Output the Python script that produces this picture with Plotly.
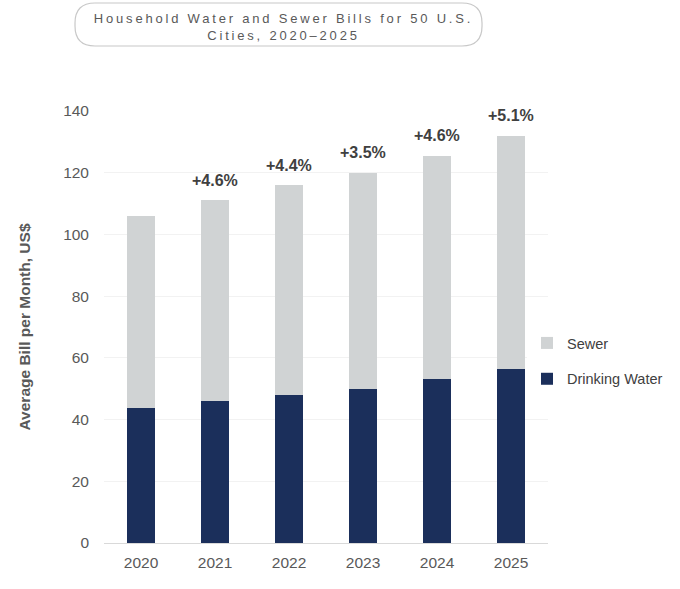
import plotly.graph_objects as go

years = ["2020", "2021", "2022", "2023", "2024", "2025"]
drinking_water = [43.8, 46.1, 48.0, 50.0, 53.1, 56.5]
sewer = [62.3, 64.9, 68.0, 70.0, 72.4, 75.4]
pct_change = ["", "+4.6%", "+4.4%", "+3.5%", "+4.6%", "+5.1%"]

W, H = 680, 589
M_L, M_R, M_T, M_B = 104, 132, 111, 46
PW = W - M_L - M_R
PH = H - M_T - M_B


def px_to_paper(x, y):
    return (x - M_L) / PW, (H - M_B - y) / PH


def rounded_box(x0, y0, x1, y1, r):
    # rounded rectangle as an svg path in paper coords, from pixel corners
    pts = [
        ("M", [(x0 + r, y0)]),
        ("L", [(x1 - r, y0)]),
        ("Q", [(x1, y0), (x1, y0 + r)]),
        ("L", [(x1, y1 - r)]),
        ("Q", [(x1, y1), (x1 - r, y1)]),
        ("L", [(x0 + r, y1)]),
        ("Q", [(x0, y1), (x0, y1 - r)]),
        ("L", [(x0, y0 + r)]),
        ("Q", [(x0, y0), (x0 + r, y0)]),
    ]
    parts = []
    for cmd, coords in pts:
        cs = []
        for (x, y) in coords:
            px, py = px_to_paper(x, y)
            cs.append(f"{px:.4f},{py:.4f}")
        parts.append(cmd + " " + " ".join(cs))
    return " ".join(parts) + " Z"


totals = [d + s for d, s in zip(drinking_water, sewer)]

fig = go.Figure()
fig.add_trace(go.Bar(
    x=years, y=drinking_water, name="Drinking Water",
    marker=dict(color="#1b2f5b", line=dict(width=0)),
    legendgroup="dw", legendrank=2,
))
fig.add_trace(go.Bar(
    x=years, y=sewer, name="Sewer",
    marker=dict(color="#d0d3d4", line=dict(width=0)),
    legendgroup="sw", legendrank=1,
))

# growth labels above each stack (category index keeps the axis from autoranging off)
for i, (tot, lab) in enumerate(zip(totals, pct_change)):
    if lab:
        fig.add_annotation(
            x=i, y=tot, text=f"<b>{lab}</b>", showarrow=False,
            yanchor="middle", yshift=20,
            font=dict(size=16, color="#404040"),
        )

fig.add_shape(
    type="path", xref="paper", yref="paper",
    path=rounded_box(75, 3, 482, 46, 20),
    line=dict(color="#c8c8c8", width=1.2),
    fillcolor="rgba(0,0,0,0)",
)

sp = "letter-spacing:2.8px"
fig.update_layout(
    width=W, height=H,
    margin=dict(l=M_L, r=M_R, t=M_T, b=M_B, autoexpand=False),
    barmode="stack", bargap=0.61,
    plot_bgcolor="white", paper_bgcolor="white",
    font=dict(family="Liberation Sans, Arial", color="#595959", size=14),
    title=dict(
        text=(f'<span style="{sp}">Household Water and Sewer Bills for 50 U.S.</span>'
              f'<br><span style="{sp}">Cities, 2020\u20132025</span>'),
        x=283.5 / W, xanchor="center",
        y=1 - 23 / H, yanchor="middle", yref="container",
        font=dict(size=13, color="#595959"),
    ),
    legend=dict(
        x=px_to_paper(527, 0)[0], xanchor="left",
        y=px_to_paper(0, 361)[1], yanchor="middle",
        traceorder="grouped", tracegroupgap=14,
        font=dict(size=14.5, color="#404040"),
        itemwidth=30,
    ),
    xaxis=dict(
        type="category", categoryorder="array", categoryarray=years,
        range=[-0.5, 5.5], autorange=False,
        showgrid=False, showline=True, linecolor="#d9d9d9", linewidth=1,
        ticks="", ticklabelstandoff=5,
        tickfont=dict(size=15.5, color="#595959"),
    ),
    yaxis=dict(
        range=[0, 140], dtick=20, showgrid=True, gridcolor="#f2f2f2",
        zeroline=False, ticks="", ticklabelstandoff=14,
        tickfont=dict(size=15.5, color="#595959"),
        title=dict(text="<b>Average Bill per Month, US$</b>", standoff=28,
                   font=dict(size=15.5, color="#595959")),
    ),
)

fig.write_html("out.html", config={"displayModeBar": False},
               post_script="document.body.style.margin='0';")
